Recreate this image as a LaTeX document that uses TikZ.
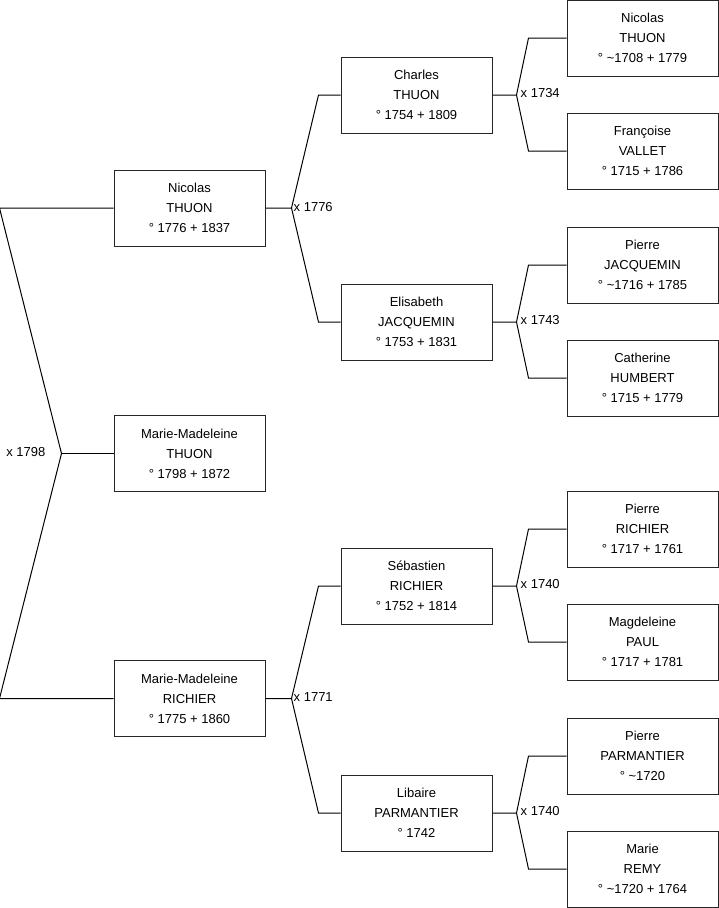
\documentclass[tikz,border=0pt]{standalone}
\usepackage{fontspec}
\setmainfont{Liberation Sans}
\usetikzlibrary{positioning,calc}

\begin{document}
\begin{tikzpicture}[x=1pt,y=-1pt,
  person/.style={draw=black!85, line width=1pt, minimum width=151pt, minimum height=76pt,
    inner sep=0pt, align=center, font=\fontsize{13}{20}\selectfont},
  link/.style={black, line width=1pt},
  wed/.style={font=\fontsize{13}{14}\selectfont, inner sep=0pt}]
\useasboundingbox (0,0) rectangle (719,908);
% Child and parents
\node[person] (a1) at (189.5,208) {Nicolas\\THUON\\° 1776 + 1837};
\node[person] (a2) at (189.5,453.5) {Marie-Madeleine\\THUON\\° 1798 + 1872};
\node[person] (a3) at (189.5,698.5) {Marie-Madeleine\\RICHIER\\° 1775 + 1860};
% Grand parents
\node[person] (b1) at (416.5,95) {Charles\\THUON\\° 1754 + 1809};
\node[person] (b2) at (416.5,322) {Elisabeth\\JACQUEMIN\\° 1753 + 1831};
\node[person] (b3) at (416.5,586) {Sébastien\\RICHIER\\° 1752 + 1814};
\node[person] (b4) at (416.5,813) {Libaire\\PARMANTIER\\° 1742};
% Great grand parents
\node[person] (c1) at (642.5,38) {Nicolas\\THUON\\° \textasciitilde1708 + 1779};
\node[person] (c2) at (642.5,151) {Françoise\\VALLET\\° 1715 + 1786};
\node[person] (c3) at (642.5,265) {Pierre\\JACQUEMIN\\° \textasciitilde1716 + 1785};
\node[person] (c4) at (642.5,378) {Catherine\\HUMBERT\\° 1715 + 1779};
\node[person] (c5) at (642.5,529) {Pierre\\RICHIER\\° 1717 + 1761};
\node[person] (c6) at (642.5,642) {Magdeleine\\PAUL\\° 1717 + 1781};
\node[person] (c7) at (642.5,756) {Pierre\\PARMANTIER\\° \textasciitilde1720};
\node[person] (c8) at (642.5,869) {Marie\\REMY\\° \textasciitilde1720 + 1764};
% Marriage of the parents
\coordinate (m0) at ($(a2.west)+(-52,0)$);
\coordinate (m0t) at ($(a1.west)+(-114,0)$);
\coordinate (m0b) at ($(a3.west)+(-114,0)$);
\draw[link] (a1.west) -- (m0t) -- (m0) -- (m0b) -- (a3.west);
\draw[link] (m0) -- (a2.west);
\node[wed, anchor=east] (w0) at ($(m0)+(-16,-1)$) {x 1798};
% Marriages of the grand parents
\foreach \k/\p/\u/\l/\yr in {1/a1/b1/b2/1776, 2/a3/b3/b4/1771} {
  \coordinate (m\k) at ($(\p.east)+(26,0)$);
  \draw[link] (\p.east) -- (m\k) -- ($(\u.west)+(-22,0)$) -- (\u.west);
  \draw[link] (m\k) -- ($(\l.west)+(-22,0)$) -- (\l.west);
  \node[wed, anchor=west] (w\k) at ($(m\k)+(2,-1)$) {x \yr};
}
% Marriages of the great grand parents
\foreach \k/\p/\u/\l/\yr in {3/b1/c1/c2/1734, 4/b2/c3/c4/1743, 5/b3/c5/c6/1740, 6/b4/c7/c8/1740} {
  \coordinate (m\k) at ($(\p.east)+(24,0)$);
  \draw[link] (\p.east) -- (m\k) -- ($(\u.west)+(-38,0)$) -- (\u.west);
  \draw[link] (m\k) -- ($(\l.west)+(-38,0)$) -- (\l.west);
  \node[wed, anchor=west] (w\k) at ($(m\k)+(4,-2)$) {x \yr};
}
\end{tikzpicture}
\end{document}
